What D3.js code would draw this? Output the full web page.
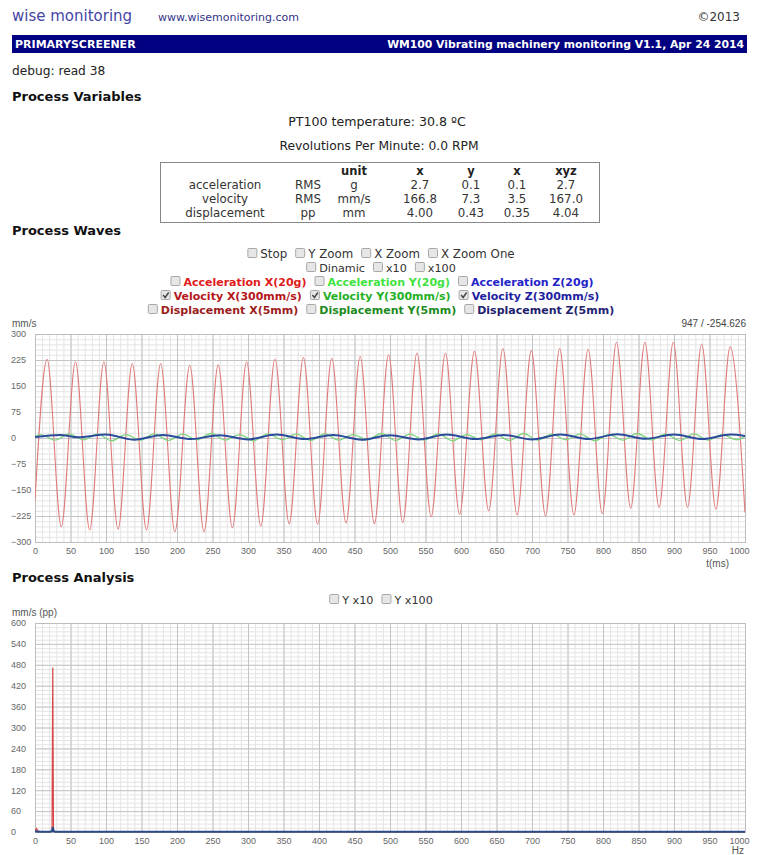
<!DOCTYPE html>
<html>
<head>
<meta charset="utf-8">
<script src="https://cdn.jsdelivr.net/npm/d3@7"></script>
<style>
  body { margin: 0; background: #fff; }
  svg { display: block; font-family: "DejaVu Sans", Verdana, sans-serif; }
  .tick-label { font-family: "Liberation Sans", Arial, sans-serif; font-size: 9px; fill: #666; }
</style>
</head>
<body>
<svg id="page" width="760" height="855"></svg>
<script>
// ---- data ----
const tableHead = ['', '', 'unit', 'x', 'y', 'x', 'xyz'];
const tableRows = [
    ['acceleration', 'RMS', 'g', '2.7', '0.1', '0.1', '2.7'],
    ['velocity', 'RMS', 'mm/s', '166.8', '7.3', '3.5', '167.0'],
    ['displacement', 'pp', 'mm', '4.00', '0.43', '0.35', '4.04']
];

const waveYTicks = [300, 225, 150, 75, 0, -75, -150, -225, -300];
const specYTicks = [600, 540, 480, 420, 360, 300, 240, 180, 120, 60, 0];
const xTicks = [0, 50, 100, 150, 200, 250, 300, 350, 400, 450, 500, 550, 600, 650, 700, 750, 800, 850, 900, 950, 1000];

// velocity X (mm/s): turning points of the wave, t in ms
const velXTime = [0, 17, 37, 57, 77, 97, 117, 137, 157, 177, 197, 218, 238, 258, 278, 298, 318, 338, 358, 378, 398, 418, 438, 458, 478, 498, 518, 538, 558, 578, 598, 619, 639, 659, 679, 699, 719, 739, 759, 779, 799, 819, 839, 859, 879, 899, 919, 939, 959, 979, 1000];
const velX = [-180, 227, -256, 220, -265, 220, -263, 215, -265, 215, -270, 210, -270, 211, -259, 220, -254, 228, -247, 232, -249, 230, -245, 235, -247, 240, -244, 245, -227, 245, -220, 250, -210, 258, -222, 252, -224, 258, -222, 256, -218, 276, -202, 276, -200, 276, -200, 271, -205, 263, -215];

// velocity Y
const velYTime = [0, 8, 28, 48, 68, 88, 108, 128, 148, 168, 188, 208, 228, 248, 268, 288, 308, 328, 348, 368, 388, 408, 428, 448, 468, 488, 508, 528, 548, 568, 588, 608, 628, 648, 668, 688, 708, 728, 748, 768, 788, 808, 828, 848, 868, 888, 908, 928, 948, 968, 988, 1000];
const velY = [4, 10, -6, 12, -5, 11, -8, 10, -6, 12, -7, 11, -5, 13, -6, 10, -8, 12, -5, 11, -7, 12, -6, 10, -5, 13, -7, 11, -6, 12, -8, 10, -5, 12, -7, 13, -6, 11, -5, 12, -8, 10, -6, 13, -5, 11, -7, 12, -6, 10, -5, 4];

// velocity Z
const velZTime = [0, 35, 60, 100, 140, 180, 220, 260, 300, 340, 380, 420, 460, 500, 540, 580, 620, 660, 700, 740, 780, 820, 860, 900, 940, 980, 1000];
const velZ = [3, 9, 2, 10, -5, 9, -3, 8, -4, 10, -3, 9, -5, 8, -4, 10, -3, 9, -4, 10, -3, 11, -2, 10, -3, 10, 6];

// spectrum (mm/s pp) per frequency, Hz
const specFreq = [0, 2, 4, 8, 22, 24, 25, 26, 28, 1000];
const specX = [3, 10, 3, 1, 1, 6, 472, 6, 1, 0];
const specY = [2, 3, 2, 1, 1, 3, 10, 3, 1, 0];
const specZ = [1, 2, 1, 1, 1, 3, 14, 3, 1, 1];

// ---- page ----
const svg = d3.select('#page');
svg.append('rect').attr('width', 760).attr('height', 855).attr('fill', '#fff');

svg.append('text').attr('x', 12).attr('y', 21).attr('font-size', 15).attr('fill', '#4646a6').text('wise monitoring');
svg.append('text').attr('x', 158).attr('y', 21).attr('font-size', 11).attr('fill', '#333388').text('www.wisemonitoring.com');
svg.append('text').attr('x', 740).attr('y', 21).attr('text-anchor', 'end').attr('font-size', 12).attr('fill', '#333').text('©2013');

svg.append('rect').attr('x', 12).attr('y', 35).attr('width', 735).attr('height', 18).attr('fill', '#000080');
svg.append('text').attr('x', 15).attr('y', 48).attr('font-size', 11).attr('font-weight', 'bold').attr('fill', '#fff').text('PRIMARYSCREENER');
svg.append('text').attr('x', 744).attr('y', 48).attr('text-anchor', 'end').attr('font-size', 10.8).attr('font-weight', 'bold').attr('fill', '#fff')
    .text('WM100 Vibrating machinery monitoring V1.1, Apr 24 2014');

svg.append('text').attr('x', 12).attr('y', 75).attr('font-size', 12.2).attr('fill', '#222').text('debug: read 38');

function heading(text, y) {
    svg.append('text').attr('x', 12).attr('y', y).attr('font-size', 13).attr('font-weight', 'bold').attr('fill', '#111').text(text);
}
heading('Process Variables', 101);
heading('Process Waves', 235);
heading('Process Analysis', 582);

svg.append('text').attr('x', 377).attr('y', 126).attr('text-anchor', 'middle').attr('font-size', 12.6).attr('fill', '#222').text('PT100 temperature: 30.8 ºC');
svg.append('text').attr('x', 379).attr('y', 150).attr('text-anchor', 'middle').attr('font-size', 12.3).attr('fill', '#222').text('Revolutions Per Minute: 0.0 RPM');

// table of values
svg.append('rect').attr('x', 160.5).attr('y', 162.5).attr('width', 439).attr('height', 60).attr('fill', 'none').attr('stroke', '#888');
const colX = [225, 308, 354, 420, 471, 517, 566];
const rowY = [175, 189, 203, 217];
tableHead.forEach((h, i) => {
    svg.append('text').attr('x', colX[i]).attr('y', rowY[0]).attr('text-anchor', 'middle')
        .attr('font-size', 11.5).attr('font-weight', 'bold').attr('fill', '#222').text(h);
});
tableRows.forEach((row, r) => {
    row.forEach((cell, i) => {
        svg.append('text').attr('x', colX[i]).attr('y', rowY[r + 1]).attr('text-anchor', 'middle')
            .attr('font-size', 11.8).attr('fill', '#333').text(cell);
    });
});

// checkbox rows, centered
function checkRow(items, y, cx, size) {
    const g = svg.append('g');
    let x = 0;
    items.forEach(it => {
        g.append('rect').attr('x', x + 0.5).attr('y', y - 5.5).attr('width', 9).attr('height', 9).attr('rx', 1)
            .attr('fill', '#e6e6e6').attr('stroke', '#a8a8a8');
        if (it.checked) {
            g.append('path').attr('d', `M${x + 2.5},${y - 1} L${x + 4.5},${y + 1.5} L${x + 8},${y - 3.5}`)
                .attr('fill', 'none').attr('stroke', '#444').attr('stroke-width', 1.4);
        }
        const t = g.append('text').attr('x', x + 13).attr('y', y + 4).attr('font-size', size || 11)
            .attr('font-weight', it.bold ? 'bold' : 'normal').attr('fill', it.color || '#333').text(it.label);
        x += 13 + t.node().getComputedTextLength() + 8;
    });
    g.attr('transform', `translate(${cx - (x - 8) / 2},0)`);
}
checkRow([{ label: 'Stop' }, { label: 'Y Zoom' }, { label: 'X Zoom' }, { label: 'X Zoom One' }], 254, 381, 11.8);
checkRow([{ label: 'Dinamic' }, { label: 'x10' }, { label: 'x100' }], 268, 381, 11.2);
checkRow([
    { label: 'Acceleration X(20g)', bold: true, color: '#e01b1b' },
    { label: 'Acceleration Y(20g)', bold: true, color: '#3ee23e' },
    { label: 'Acceleration Z(20g)', bold: true, color: '#2323c8' }
], 282, 382);
checkRow([
    { label: 'Velocity X(300mm/s)', bold: true, color: '#b4161c', checked: true },
    { label: 'Velocity Y(300mm/s)', bold: true, color: '#24b024', checked: true },
    { label: 'Velocity Z(300mm/s)', bold: true, color: '#1e1e9e', checked: true }
], 296, 380);
checkRow([
    { label: 'Displacement X(5mm)', bold: true, color: '#9c2020' },
    { label: 'Displacement Y(5mm)', bold: true, color: '#208a20' },
    { label: 'Displacement Z(5mm)', bold: true, color: '#22226e' }
], 310, 381);
checkRow([{ label: 'Y x10' }, { label: 'Y x100' }], 600, 381, 11.2);

// ---- charts ----
function drawChart(cfg) {
    const x = d3.scaleLinear().domain([0, 1000]).range([35, 745]);
    const y = d3.scaleLinear().domain(cfg.yDomain).range([cfg.bottom, cfg.top]);
    const h = cfg.bottom - cfg.top;
    const g = svg.append('g');

    g.append('rect').attr('x', 35).attr('y', cfg.top).attr('width', 711).attr('height', h).attr('fill', '#fff');

    // minor grid
    g.append('g').attr('transform', `translate(0,${cfg.bottom})`)
        .call(d3.axisBottom(x).tickValues(x.ticks(100)).tickSize(-h).tickFormat(''))
        .call(a => a.select('.domain').remove())
        .call(a => a.selectAll('line').attr('stroke', '#e4e4e4'));
    g.append('g').attr('transform', 'translate(35,0)')
        .call(d3.axisLeft(y).tickValues(cfg.minorY).tickSize(-711).tickFormat(''))
        .call(a => a.select('.domain').remove())
        .call(a => a.selectAll('line').attr('stroke', '#e4e4e4'));
    // major grid
    g.append('g').attr('transform', `translate(0,${cfg.bottom})`)
        .call(d3.axisBottom(x).tickValues(xTicks).tickSize(-h).tickFormat(''))
        .call(a => a.select('.domain').remove())
        .call(a => a.selectAll('line').attr('stroke', '#c4c4c4'));
    g.append('g').attr('transform', 'translate(35,0)')
        .call(d3.axisLeft(y).tickValues(cfg.yTicks).tickSize(-711).tickFormat(''))
        .call(a => a.select('.domain').remove())
        .call(a => a.selectAll('line').attr('stroke', '#c4c4c4'));

    g.append('rect').attr('x', 35.5).attr('y', cfg.top + 0.5).attr('width', 710).attr('height', h)
        .attr('fill', 'none').attr('stroke', '#bdbdbd');

    // tick labels
    g.append('g').attr('transform', `translate(0,${cfg.bottom + 9})`)
        .call(d3.axisBottom(x).tickValues(xTicks).tickSize(0).tickPadding(0).tickFormat(d3.format('d')))
        .call(a => a.select('.domain').remove())
        .call(a => a.selectAll('text').attr('class', 'tick-label').attr('dy', '0.3em')
            .attr('dx', d => d === 1000 ? -6 : 0));
    g.append('g').attr('transform', 'translate(11,0)')
        .call(d3.axisRight(y).tickValues(cfg.yTicks).tickSize(0).tickPadding(0))
        .call(a => a.select('.domain').remove())
        .call(a => a.selectAll('text').attr('class', 'tick-label'));

    const clipId = cfg.id + '-clip';
    g.append('clipPath').attr('id', clipId).append('rect')
        .attr('x', 35).attr('y', cfg.top).attr('width', 711).attr('height', h + 1);
    const plot = g.append('g').attr('clip-path', `url(#${clipId})`);
    cfg.series.forEach(s => {
        const line = d3.line().x((d, i) => x(s.t[i])).y(d => y(d)).curve(s.curve);
        plot.append('path').datum(s.v).attr('d', line)
            .attr('fill', 'none').attr('stroke', s.color).attr('stroke-width', s.width);
    });

    g.append('text').attr('x', 12).attr('y', cfg.top - 7).attr('class', 'tick-label')
        .style('font-size', '10px').style('fill', '#555').text(cfg.yLabel);
    g.append('text').attr('x', cfg.xLabelX).attr('y', cfg.xLabelY).attr('text-anchor', 'end').attr('class', 'tick-label')
        .style('font-size', '10px').style('fill', '#555').text(cfg.xLabel);
    if (cfg.cursor) {
        g.append('text').attr('x', 746).attr('y', cfg.top - 7).attr('text-anchor', 'end').attr('class', 'tick-label')
            .style('font-size', '10px').style('fill', '#444').text(cfg.cursor);
    }
}

drawChart({
    id: 'waves', top: 334, bottom: 542, yDomain: [-300, 300],
    yTicks: waveYTicks, minorY: d3.range(-300, 301, 15),
    yLabel: 'mm/s', xLabel: 't(ms)', xLabelX: 729, xLabelY: 567, cursor: '947 / -254.626',
    series: [
        { t: velXTime, v: velX, color: '#e07a7a', width: 1.1, curve: d3.curveMonotoneX },
        { t: velYTime, v: velY, color: '#7fd67f', width: 1.3, curve: d3.curveMonotoneX },
        { t: velZTime, v: velZ, color: '#2b4b9b', width: 2, curve: d3.curveMonotoneX }
    ]
});

drawChart({
    id: 'spec', top: 623, bottom: 832, yDomain: [0, 600],
    yTicks: specYTicks, minorY: d3.range(0, 601, 12),
    yLabel: 'mm/s (pp)', xLabel: 'Hz', xLabelX: 744, xLabelY: 854,
    series: [
        { t: specFreq, v: specY, color: '#7fd67f', width: 1.2, curve: d3.curveLinear },
        { t: specFreq, v: specX, color: '#d84848', width: 1.2, curve: d3.curveLinear },
        { t: specFreq, v: specZ, color: '#2b4b8b', width: 2, curve: d3.curveLinear }
    ]
});
</script>
</body>
</html>
